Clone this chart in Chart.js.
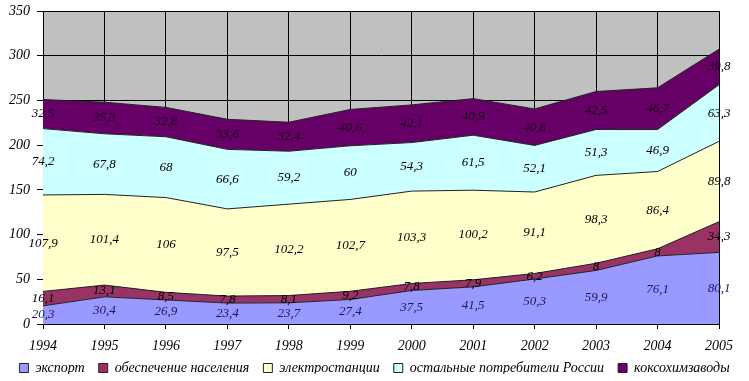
<!DOCTYPE html>
<html>
<head>
<meta charset="utf-8">
<script src="https://cdn.jsdelivr.net/npm/chart.js@4/dist/chart.umd.min.js"></script>
<style>
  html, body { margin: 0; padding: 0; background: #fff; }
  #wrap { width: 749px; height: 381px; }
</style>
</head>
<body>
<div id="wrap"><canvas id="coalChart"></canvas></div>
<script>
const years = ['1994', '1995', '1996', '1997', '1998', '1999', '2000', '2001', '2002', '2003', '2004', '2005'];

const exportVals = [20.3, 30.4, 26.9, 23.4, 23.7, 27.4, 37.5, 41.5, 50.3, 59.9, 76.1, 80.1];
const populationVals = [16.1, 13.1, 8.5, 7.8, 8.1, 9.2, 7.8, 7.9, 6.2, 8, 8, 34.3];
const powerPlantVals = [107.9, 101.4, 106, 97.5, 102.2, 102.7, 103.3, 100.2, 91.1, 98.3, 86.4, 89.8];
const otherRussiaVals = [74.2, 67.8, 68, 66.6, 59.2, 60, 54.3, 61.5, 52.1, 51.3, 46.9, 63.3];
const cokeVals = [32.5, 35.3, 32.8, 33.6, 32.4, 40.6, 42.1, 40.9, 40.8, 42.5, 46.7, 39.8];

const yTicks = [0, 50, 100, 150, 200, 250, 300, 350];

const serif = '"Liberation Serif", "Times New Roman", serif';

// grey plot background under the grid
const plotBg = {
  id: 'plotBg',
  beforeDraw(chart) {
    const { ctx, chartArea: a } = chart;
    ctx.save();
    ctx.fillStyle = '#C0C0C0';
    ctx.fillRect(a.left, a.top, a.right - a.left, a.bottom - a.top);
    ctx.restore();
  }
};

// short legend strip, nudged up a little under the year labels
const legendHeight = {
  id: 'legendHeight',
  afterInit(chart) {
    const lg = chart.legend;
    const fit = lg.fit;
    lg.fit = function () {
      fit.call(this);
      this.height = 27;
    };
  },
  afterLayout(chart) {
    chart.legend.top -= 7;
    chart.legend.bottom -= 7;
  }
};

// value labels in the middle of each band
const bandLabels = {
  id: 'bandLabels',
  afterDatasetsDraw(chart) {
    const { ctx } = chart;
    const x = chart.scales.x, y = chart.scales.y;
    ctx.save();
    ctx.font = 'italic 13px ' + serif;
    ctx.textAlign = 'center';
    ctx.textBaseline = 'middle';
    const base = new Array(years.length).fill(0);
    chart.data.datasets.forEach((ds) => {
      ds.data.forEach((v, i) => {
        const mid = base[i] + v / 2;
        base[i] += v;
        ctx.fillStyle = ds.labelColor;
        ctx.fillText(String(v).replace('.', ','), x.getPixelForValue(i), y.getPixelForValue(mid));
      });
    });
    ctx.restore();
  }
};

function band(label, data, color, labelColor, fill) {
  return {
    label: label,
    data: data,
    backgroundColor: color,
    borderColor: '#222',
    borderWidth: 1,
    fill: fill,
    pointRadius: 0,
    tension: 0,
    labelColor: labelColor
  };
}

const ctx = document.getElementById('coalChart').getContext('2d');
new Chart(ctx, {
  type: 'line',
  data: {
    labels: years,
    datasets: [
      band('экспорт', exportVals, '#9999FF', '#1a1a5e', 'origin'),
      band('обеспечение населения', populationVals, '#993366', '#000', '-1'),
      band('электростанции', powerPlantVals, '#FFFFCC', '#000', '-1'),
      band('остальные потребители России', otherRussiaVals, '#CCFFFF', '#000', '-1'),
      band('коксохимзаводы', cokeVals, '#660066', '#1a001a', '-1')
    ]
  },
  options: {
    responsive: true,
    maintainAspectRatio: false,
    animation: false,
    layout: { padding: { top: 11, right: 0, left: 0, bottom: 0 } },
    plugins: {
      legend: {
        position: 'bottom',
        labels: {
          color: '#000',
          boxWidth: 9,
          boxHeight: 9,
          padding: 14,
          font: { family: serif, size: 14, style: 'italic' }
        }
      },
      tooltip: { enabled: false }
    },
    scales: {
      x: {
        offset: false,
        grid: { color: '#000', lineWidth: 1, tickLength: 5, drawOnChartArea: true },
        border: { color: '#000' },
        ticks: {
          color: '#000',
          maxRotation: 0,
          autoSkip: false,
          padding: 9,
          font: { family: serif, size: 14, style: 'italic' }
        },
        afterFit(scale) { scale.height = 30; }
      },
      y: {
        stacked: true,
        min: 0,
        max: 350,
        afterBuildTicks(scale) { scale.ticks = yTicks.map(v => ({ value: v })); },
        grid: { color: '#000', lineWidth: 1, tickLength: 6 },
        border: { color: '#000' },
        ticks: {
          color: '#000',
          padding: 7,
          font: { family: serif, size: 14, style: 'italic' }
        },
        afterFit(scale) {
          scale.width = 43;
          scale.paddingTop = 0;
          scale.paddingBottom = 0;
        }
      },
      // empty strip on the right, leaves room for the 2005 labels
      y2: {
        position: 'right',
        grid: { display: false },
        border: { display: false },
        ticks: { display: false },
        afterFit(scale) {
          scale.width = 30;
          scale.paddingTop = 0;
          scale.paddingBottom = 0;
        }
      }
    }
  },
  plugins: [plotBg, legendHeight, bandLabels]
});
</script>
</body>
</html>
